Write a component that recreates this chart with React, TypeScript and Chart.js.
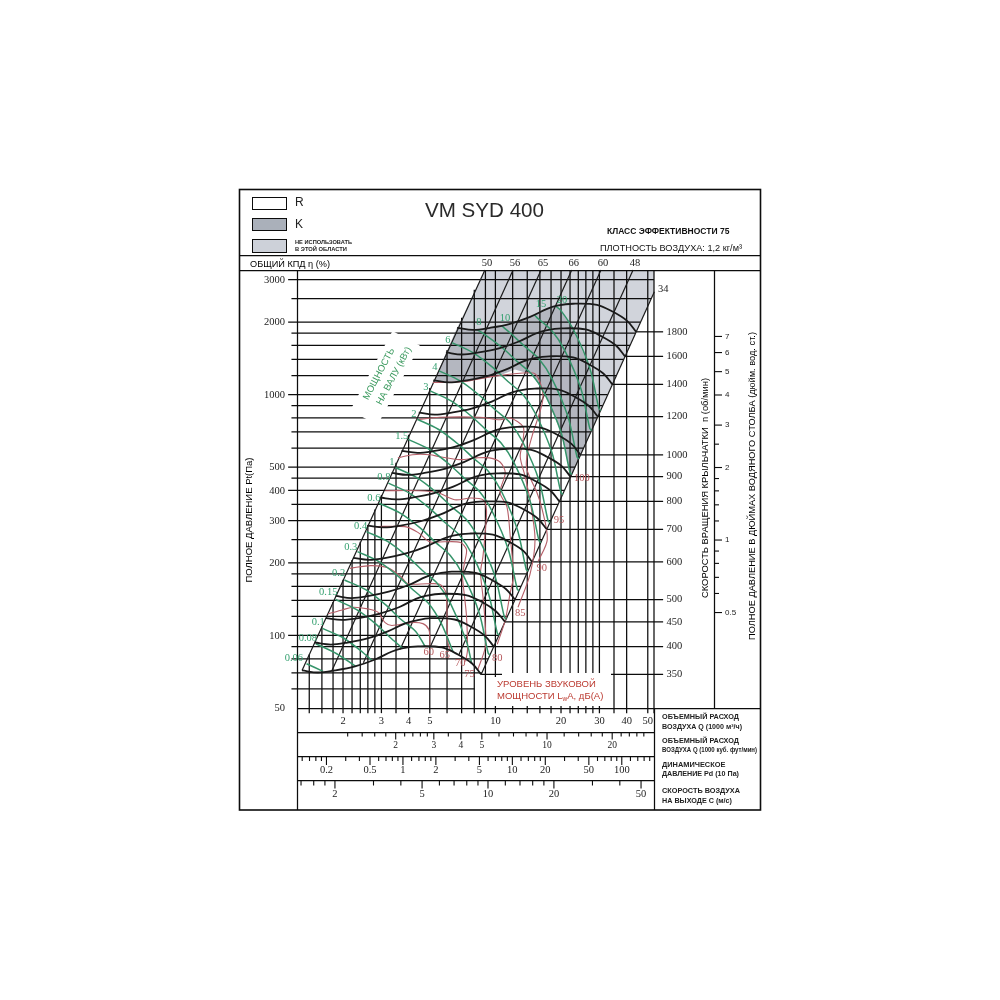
import React, { useEffect, useRef } from "react";
import { Chart, registerables } from "chart.js";

Chart.register(...registerables);

// ---- Axis tick values ----
const pressureGrid = [3000, 2500, 2000, 1800, 1600, 1400, 1200, 1000, 900, 800, 700, 600, 500, 450, 400, 350, 300, 250, 200, 180, 160, 140, 120, 100, 90, 80, 70, 60];
const pressureLabels = [3000, 2000, 1000, 500, 400, 300, 200, 100, 50];
const flowGrid = [1.4, 1.6, 1.8, 2, 2.2, 2.4, 2.6, 2.8, 3, 3.5, 4, 5, 6, 7, 8, 9, 10, 12, 14, 16, 18, 20, 22, 24, 26, 28, 30, 35, 40, 50, 53.4];
const flowLabels = [2, 3, 4, 5, 10, 20, 30, 40, 50];
const cfmTicks = [1.2, 1.4, 1.6, 1.8, 2, 2.2, 2.4, 2.6, 2.8, 3, 3.5, 4, 5, 6, 7, 8, 9, 10, 12, 14, 16, 18, 20, 22, 24, 26, 28];
const cfmLabels = [2, 3, 4, 5, 10, 20];
const dynTicks = [0.12, 0.14, 0.16, 0.18, 0.2, 0.3, 0.4, 0.5, 0.6, 0.7, 0.8, 0.9, 1, 1.2, 1.4, 1.6, 1.8, 2, 3, 4, 5, 6, 7, 8, 9, 10, 12, 14, 16, 18, 20, 30, 40, 50, 60, 70, 80, 90, 100, 120, 140, 160, 180];
const dynLabels = [0.2, 0.5, 1, 2, 5, 10, 20, 50, 100];
const speedTicks = [1.4, 1.6, 1.8, 2, 3, 4, 5, 6, 7, 8, 9, 10, 12, 14, 16, 18, 20, 30, 40, 50];
const speedLabels = [2, 5, 10, 20, 50];
const inchTicks = [0.5, 0.6, 0.7, 0.8, 0.9, 1, 1.2, 1.4, 1.6, 1.8, 2, 2.5, 3, 4, 5, 6, 7];
const inchLabels = [0.5, 1, 2, 3, 4, 5, 6, 7];

// ---- Fan speed curves (Q in 1000 m3/h, Pt in Pa) ----
const rpmLabels = [350, 400, 450, 500, 600, 700, 800, 900, 1000, 1200, 1400, 1600, 1800];
const rpmFlow = [
  [1.297, 1.536, 1.838, 2.27, 2.805, 3.357, 3.729, 4.414, 5.683, 6.731, 7.817, 8.6],
  [1.48, 1.76, 2.1, 2.59, 3.21, 3.84, 4.26, 5.04, 6.5, 7.69, 8.93, 9.83],
  [1.67, 1.97, 2.36, 2.92, 3.61, 4.32, 4.79, 5.68, 7.31, 8.65, 10.05, 11.06],
  [1.85, 2.19, 2.63, 3.24, 4.01, 4.8, 5.33, 6.31, 8.12, 9.62, 11.17, 12.29],
  [2.22, 2.63, 3.15, 3.89, 4.81, 5.75, 6.39, 7.57, 9.74, 11.54, 13.4, 14.74],
  [2.59, 3.07, 3.68, 4.54, 5.61, 6.71, 7.46, 8.83, 11.37, 13.46, 15.63, 17.2],
  [2.96, 3.51, 4.2, 5.19, 6.41, 7.67, 8.52, 10.09, 12.99, 15.39, 17.87, 19.66],
  [3.34, 3.95, 4.73, 5.84, 7.21, 8.63, 9.59, 11.35, 14.61, 17.31, 20.1, 22.11],
  [3.71, 4.39, 5.25, 6.49, 8.01, 9.59, 10.65, 12.61, 16.24, 19.23, 22.33, 24.57],
  [4.45, 5.27, 6.3, 7.78, 9.62, 11.51, 12.79, 15.13, 19.48, 23.08, 26.8, 29.49],
  [5.19, 6.14, 7.35, 9.08, 11.22, 13.43, 14.92, 17.66, 22.73, 26.92, 31.27, 34.4],
  [5.93, 7.02, 8.4, 10.38, 12.82, 15.35, 17.05, 20.18, 25.98, 30.77, 35.73, 39.31],
  [6.67, 7.9, 9.45, 11.67, 14.43, 17.26, 19.18, 22.7, 29.23, 34.62, 40.2, 44.23],
];
const rpmPressure = [
  [71.6, 70.2, 71.6, 74.4, 79.5, 85.8, 88.4, 90.1, 89.2, 83.4, 76.5, 68.9],
  [93.5, 91.7, 93.5, 97.2, 104, 112, 115, 118, 116.5, 109, 99.9, 90],
  [118, 116, 118, 123, 131, 142, 146, 149, 147, 138, 126, 114],
  [146, 143, 146, 152, 162, 175, 180, 184, 182, 170, 156, 141],
  [210, 206, 210, 219, 234, 252, 260, 265, 262, 245, 225, 202],
  [286, 281, 286, 298, 318, 343, 354, 360, 357, 334, 306, 276],
  [374, 367, 374, 389, 415, 448, 462, 471, 466, 436, 400, 360],
  [473, 464, 473, 492, 526, 567, 585, 596, 590, 551, 506, 456],
  [584, 573, 584, 607, 649, 700, 722, 735, 728, 681, 624, 562],
  [842, 825, 842, 875, 935, 1009, 1039, 1059, 1049, 980, 899, 810],
  [1146, 1123, 1146, 1190, 1272, 1373, 1414, 1442, 1427, 1334, 1224, 1102],
  [1496, 1467, 1496, 1555, 1661, 1793, 1847, 1883, 1864, 1743, 1599, 1440],
  [1894, 1857, 1894, 1968, 2103, 2269, 2338, 2383, 2359, 2206, 2023, 1822],
];

// ---- Shaft power curves (kW) ----
const powerLabels = ["0.06", "0.08", "0.1", "0.15", "0.2", "0.3", "0.4", "0.6", "0.8", "1", "1.5", "2", "3", "4", "6", "8", "10", "15", "20"];
const powerFlow = [
  [1.36, 1.62],
  [1.5, 1.87, 2.28],
  [1.61, 2.02, 2.49, 2.72],
  [1.85, 2.31, 2.85, 3.34, 3.75],
  [2.03, 2.54, 3.14, 3.67, 4.31, 4.75],
  [2.33, 2.91, 3.59, 4.21, 4.93, 5.65, 6.4],
  [2.56, 3.2, 3.95, 4.63, 5.43, 6.22, 7.37, 7.78],
  [2.93, 3.66, 4.53, 5.3, 6.21, 7.12, 8.43, 9.27, 9.47],
  [3.23, 4.03, 4.98, 5.83, 6.84, 7.84, 9.28, 10.21, 10.42],
  [3.48, 4.34, 5.37, 6.28, 7.36, 8.44, 10.0, 11.0, 11.23],
  [3.98, 4.97, 6.14, 7.19, 8.43, 9.66, 11.45, 12.59, 12.85],
  [4.38, 5.47, 6.76, 7.92, 9.28, 10.64, 12.6, 13.85, 14.15],
  [5.02, 6.26, 7.74, 9.06, 10.62, 12.18, 14.42, 15.86, 16.19],
  [5.52, 6.89, 8.52, 9.98, 11.69, 13.4, 15.87, 17.45, 17.82],
  [6.32, 7.89, 9.75, 11.42, 13.38, 15.34, 18.17, 19.98, 20.4],
  [8.15, 8.68, 10.73, 12.57, 14.73, 16.88, 20.0, 21.99, 22.45],
  [10.65, 11.56, 13.54, 15.86, 18.19, 21.54, 23.69, 24.19],
  [15.1, 15.5, 18.16, 20.82, 24.66, 27.12, 27.69],
  [18.9, 19.99, 22.91, 27.14, 29.85, 30.47],
];
const powerPressure = [
  [76.3, 71],
  [92.4, 84, 74.6],
  [107, 97.4, 84.4, 78.6],
  [141, 128, 111, 96.9, 88.6],
  [170, 155, 134, 117, 104, 90.2],
  [223, 203, 176, 154, 136, 112, 85.5],
  [270, 246, 213, 186, 164, 136, 94.5, 76.5],
  [354, 322, 279, 244, 215, 178, 124, 84.4, 82.9],
  [429, 390, 338, 296, 261, 216, 150, 102, 100.5],
  [498, 453, 392, 343, 303, 250, 174, 119, 117],
  [652, 593, 514, 450, 397, 328, 228, 156, 153],
  [790, 718, 622, 545, 481, 398, 276, 188, 185],
  [1036, 941, 815, 714, 630, 521, 362, 247, 243],
  [1255, 1140, 987, 865, 763, 631, 439, 299, 294],
  [1644, 1494, 1294, 1133, 1000, 827, 575, 392, 385],
  [1862, 1810, 1568, 1373, 1211, 1002, 697, 475, 466],
  [1935, 1819, 1593, 1406, 1163, 808, 551, 541],
  [2140, 2087, 1842, 1523, 1059, 722, 709],
  [2330, 2231, 1845, 1283, 875, 859],
];
const powerLabelAt = [
  [1.19, 80.3], [1.38, 97.3], [1.54, 114], [1.71, 151], [1.91, 181], [2.17, 232], [2.41, 283], [2.77, 370], [3.08, 452], [3.35, 524],
  [3.72, 670], [4.23, 830], [4.8, 1077], [5.28, 1297], [6.06, 1687], [8.4, 1990], [11.06, 2065], [16.2, 2365], [20.2, 2470],
];

// ---- Sound power curves, dB(A) ----
const noiseLabels = [60, 65, 70, 75, 80, 85, 90];
const noiseFlow = [
  [1.71, 2.0, 2.22, 2.6, 2.89, 3.12, 3.35, 4.09, 4.65, 4.95, 5.0, 5.0],
  [2.15, 2.68, 3.21, 3.68, 3.97, 4.89, 5.55, 5.92, 6.0, 6.05, 6.24],
  [2.79, 3.84, 4.41, 5.0, 5.86, 6.92, 7.37, 7.22, 7.07, 7.22, 7.37, 7.45, 7.3],
  [3.12, 4.41, 5.44, 6.5, 7.7, 8.77, 9.1, 9.0, 8.77, 8.55, 8.77, 8.97, 9.0, 8.3],
  [3.57, 4.17, 5.0, 5.55, 6.85, 8.2, 9.39, 10.5, 11.1, 10.5, 11.3, 11.7, 12.1, 11.7, 11.1, 10.2],
  [4.35, 5.55, 8.45, 10.5, 11.7, 13.4, 13.4, 13.0, 13.7, 14.4, 15.2, 14.4, 12.7],
  [5.17, 7.07, 9.75, 14.9, 16.0, 16.5, 14.7, 13.95, 13.95, 15.5, 16.4, 17.3, 15.7],
];
const noisePressure = [
  [123, 128, 131, 129, 125, 113, 110, 113, 112, 106, 98, 90],
  [190, 195, 191, 176, 164, 164, 163, 151, 120, 94, 86],
  [283, 283, 268, 245, 245, 243, 227, 201, 176, 145, 120, 87.5, 78],
  [399, 399, 392, 366, 372, 366, 333, 275, 213, 183, 145, 113, 90, 72],
  [546, 563, 563, 552, 537, 546, 546, 525, 474, 392, 342, 257, 176, 151, 116, 92],
  [786, 805, 805, 786, 800, 735, 650, 552, 456, 366, 250, 179, 131],
  [1122, 1130, 1190, 1230, 1130, 951, 668, 552, 488, 392, 333, 250, 203],
];
const noiseLabelText = ["60", "65", "70", "75", "80", "85", "90", "95", "100"];
const noiseLabelAt = [
  [4.95, 85.5], [5.85, 83], [6.9, 77], [7.6, 69], [10.2, 80.5], [13.0, 123.5], [16.3, 191], [19.6, 302], [24.9, 449],
];

// ---- Efficiency (system) lines ----
const efficiencyLabels = ["50", "56", "65", "66", "60", "48"];
const efficiencyLabelFlow = [8.95, 12.05, 16.2, 22.4, 30.5, 42.8];
const efficiencyFlow = [
  [1.297, 8.95],
  [1.78, 12.05],
  [2.48, 16.2],
  [3.66, 22.4],
  [5.02, 30.5],
  [6.79, 42.8],
  [8.6, 53.6],
];
const efficiencyPressure = [
  [71.6, 3290],
  [71.6, 3290],
  [77, 3290],
  [87.7, 3290],
  [89.6, 3290],
  [83, 3290],
  [68.9, 2673],
];

// ---- Zones ----
const forbiddenFlow = [6.67, 8.95, 53.4, 53.4, 30.4, 29.85, 27.14, 22.91, 19.99, 18.9, 17.26, 14.43, 11.67, 9.45, 7.9];
const forbiddenPressure = [1894, 3290, 3290, 2673, 865, 875, 1283, 1845, 2231, 2330, 2269, 2103, 1968, 1894, 1857];
const zoneKFlow = [6.67, 7.9, 9.45, 11.67, 14.43, 17.26, 18.9, 19.99, 22.91, 27.14, 29.85, 30.4, 22.3, 21.99, 20.0, 16.88, 14.73, 12.3, 10.15, 7.4, 5.17];
const zoneKPressure = [1894, 1857, 1894, 1968, 2103, 2269, 2330, 2231, 1845, 1283, 875, 865, 456, 475, 697, 1002, 1211, 1270, 1190, 1140, 1118];

const SANS = '"Liberation Sans", Arial, sans-serif';
const SERIF = '"Liberation Serif", "Times New Roman", serif';
const BLACK = "#0c0c0c";
const GREEN = "#35946a";
const RED = "#b55f68";
const DARK_ZONE = "#b4b7c0";
const LIGHT_ZONE = "#d1d4db";

const xMin = 1.23, xMax = 53.4, yMin = 50, yMax = 3290;
const rightK = 1.036, leftK = 0.1533;

const makeLine = (xs: number[], ys: number[], color: string, width: number, order: number, tension = 0) => ({
  data: xs.map((x, i) => ({ x, y: ys[i] })),
  showLine: true,
  pointRadius: 0,
  borderColor: color,
  borderWidth: width,
  tension,
  order,
  clip: false as any,
  fill: false,
});

function buildDatasets() {
  const sets: any[] = [];
  pressureGrid.forEach((p) => {
    const labelled = pressureLabels.includes(p);
    const right = Math.min(xMax, rightK * Math.sqrt(p));
    sets.push(makeLine([labelled ? 1.12 : 1.16, right], [p, p], BLACK, 1.25, 50));
  });
  flowGrid.forEach((q) => {
    const top = Math.min(yMax, (q / leftK) * (q / leftK));
    sets.push(makeLine([q, q], [47.6, top], BLACK, 1.25, 50));
  });
  rpmLabels.forEach((_, i) => {
    const f = rpmFlow[i], p = rpmPressure[i];
    const endQ = f[f.length - 1], endP = p[p.length - 1];
    sets.push(makeLine([endQ, 58.8], [endP, endP], BLACK, 1.25, 45));
  });
  efficiencyFlow.forEach((f, i) => sets.push(makeLine(f, efficiencyPressure[i], "#1a1a1a", 1.2, 40)));
  noiseFlow.forEach((f, i) => sets.push(makeLine(f, noisePressure[i], RED, 1.1, 30, 0.3)));
  powerFlow.forEach((f, i) => sets.push(makeLine(f, powerPressure[i], GREEN, 1.5, 20, 0.3)));
  rpmFlow.forEach((f, i) => sets.push(makeLine(f, rpmPressure[i], "#1a1a1a", 1.8, 10, 0.35)));
  return sets;
}

const text = (ctx: any, s: string, x: number, y: number, font: string, color = "#222", align = "left", maxW?: number) => {
  ctx.font = font;
  ctx.fillStyle = color;
  ctx.textAlign = align;
  ctx.textBaseline = "middle";
  if (maxW) ctx.fillText(s, x, y, maxW);
  else ctx.fillText(s, x, y);
};
const rotated = (ctx: any, s: string, x: number, y: number, deg: number, font: string, color = "#222", maxW?: number) => {
  ctx.save();
  ctx.translate(x, y);
  ctx.rotate((deg * Math.PI) / 180);
  text(ctx, s, 0, 0, font, color, "center", maxW);
  ctx.restore();
};
const seg = (ctx: any, x0: number, y0: number, x1: number, y1: number, w = 1, color = BLACK) => {
  ctx.strokeStyle = color;
  ctx.lineWidth = w;
  ctx.beginPath();
  ctx.moveTo(x0, y0);
  ctx.lineTo(x1, y1);
  ctx.stroke();
};

const zonesPlugin = {
  id: "zones",
  beforeDatasetsDraw(chart: any) {
    const { ctx, scales } = chart;
    const poly = (fx: number[], fy: number[], color: string) => {
      ctx.beginPath();
      fx.forEach((q, i) => {
        const px = scales.x.getPixelForValue(q), py = scales.y.getPixelForValue(fy[i]);
        if (i === 0) ctx.moveTo(px, py);
        else ctx.lineTo(px, py);
      });
      ctx.closePath();
      ctx.fillStyle = color;
      ctx.fill();
    };
    poly(forbiddenFlow, forbiddenPressure, LIGHT_ZONE);
    poly(zoneKFlow, zoneKPressure, DARK_ZONE);
  },
};

const annotationPlugin = {
  id: "annotation",
  afterDatasetsDraw(chart: any) {
    const { ctx, scales } = chart;
    const { x, y, cfm, dyn, speed, inch } = scales;
    ctx.save();

    // white knock-outs behind captions
    ctx.save();
    ctx.translate(385, 378);
    ctx.rotate((-62 * Math.PI) / 180);
    ctx.fillStyle = "#fff";
    ctx.fillRect(-45, -15.5, 90, 31);
    ctx.restore();
    ctx.fillStyle = "#fff";
    ctx.fillRect(490, 677, 121, 29);
    ctx.fillRect(502, 673, 109, 5);

    // frame and rules
    ctx.strokeStyle = BLACK;
    ctx.lineWidth = 1.6;
    ctx.strokeRect(239.5, 189.5, 521, 620.5);
    seg(ctx, 239, 255.5, 760, 255.5, 1.25);
    seg(ctx, 239, 270.5, 760, 270.5, 1.25);
    seg(ctx, 297.5, 270, 297.5, 810, 1.25);
    seg(ctx, 654.5, 708, 654.5, 810, 1.25);
    seg(ctx, 714.5, 270, 714.5, 708, 1.25);
    seg(ctx, 297, 708.5, 760, 708.5, 1.25);
    seg(ctx, 297, 732.5, 654, 732.5, 1.25);
    seg(ctx, 297, 756.5, 654, 756.5, 1.25);
    seg(ctx, 297, 780.5, 654, 780.5, 1.25);

    // legend
    ctx.lineWidth = 1;
    ctx.strokeStyle = BLACK;
    ctx.fillStyle = "#fff";
    ctx.fillRect(252.5, 197.5, 34, 12);
    ctx.strokeRect(252.5, 197.5, 34, 12);
    ctx.fillStyle = "#aab0ba";
    ctx.fillRect(252.5, 218.5, 34, 12);
    ctx.strokeRect(252.5, 218.5, 34, 12);
    ctx.fillStyle = "#cdd1d9";
    ctx.fillRect(252.5, 239.5, 34, 13);
    ctx.strokeRect(252.5, 239.5, 34, 13);
    text(ctx, "R", 295, 203, `12px ${SANS}`);
    text(ctx, "K", 295, 225, `12px ${SANS}`);
    text(ctx, "НЕ ИСПОЛЬЗОВАТЬ", 295, 242.5, `bold 6px ${SANS}`, "#222", "left", 57);
    text(ctx, "В ЭТОЙ ОБЛАСТИ", 295, 249.5, `bold 6px ${SANS}`, "#222", "left", 52);

    // headings
    text(ctx, "VM SYD 400", 484.5, 211.5, `21px ${SANS}`, "#2a2a2a", "center", 119);
    text(ctx, "КЛАСС ЭФФЕКТИВНОСТИ 75", 607, 231.5, `bold 8.5px ${SANS}`, "#111", "left", 133);
    text(ctx, "ПЛОТНОСТЬ ВОЗДУХА: 1,2 кг/м³", 600, 248, `9.5px ${SANS}`, "#111", "left", 142);
    text(ctx, "ОБЩИЙ КПД η (%)", 250, 264, `9.5px ${SANS}`, "#000", "left", 80);

    // efficiency labels
    efficiencyLabels.forEach((s, i) => {
      const px = x.getPixelForValue(efficiencyLabelFlow[i]);
      text(ctx, s, px + 2, 263.5, `10.5px ${SERIF}`, "#222", "center");
    });
    text(ctx, "34", 658, 289, `10.5px ${SERIF}`, "#222");

    // pressure labels
    pressureLabels.forEach((p) => {
      text(ctx, String(p), 285, y.getPixelForValue(p) + 0.5, `10.5px ${SERIF}`, "#222", "right");
    });

    // rpm labels
    rpmLabels.forEach((n, i) => {
      const p = rpmPressure[i];
      text(ctx, String(n), 666.5, y.getPixelForValue(p[p.length - 1]), `10.5px ${SERIF}`, "#222");
    });

    // inches water gauge ruler
    inchTicks.forEach((v) => {
      const py = inch.getPixelForValue(v);
      const major = inchLabels.includes(v);
      seg(ctx, 714, py, major ? 722 : 719, py, 1.1);
      if (major) text(ctx, String(v), 725, py, `8px ${SANS}`, "#222");
    });

    // bottom rulers
    flowLabels.forEach((v) => {
      const px = x.getPixelForValue(v);
      text(ctx, String(v), px, 721.5, `10.5px ${SERIF}`, "#222", "center");
    });
    const ruler = (scale: any, ticks: number[], labels: number[], yTop: number, minor: number, major: number, ly: number, font: string) => {
      ticks.forEach((v) => {
        const px = scale.getPixelForValue(v);
        const on = labels.includes(v);
        seg(ctx, px, yTop, px, yTop + (on ? major : minor), 1.1);
        if (on) text(ctx, String(v), px, ly, font, "#222", "center");
      });
    };
    ruler(cfm, cfmTicks, cfmLabels, 732, 4.5, 7.5, 745.5, `9.5px ${SERIF}`);
    ruler(dyn, dynTicks, dynLabels, 756, 5, 9, 770, `10.5px ${SERIF}`);
    ruler(speed, speedTicks, speedLabels, 780, 5.5, 8.5, 794, `10.5px ${SERIF}`);

    // right-hand ruler captions
    const cap = `bold 7.4px ${SANS}`;
    text(ctx, "ОБЪЕМНЫЙ РАСХОД", 662, 717, cap, "#222", "left", 77);
    text(ctx, "ВОЗДУХА Q (1000 м³/ч)", 662, 727, cap, "#222", "left", 80);
    text(ctx, "ОБЪЕМНЫЙ РАСХОД", 662, 741, cap, "#222", "left", 77);
    text(ctx, "ВОЗДУХА Q (1000 куб. фут/мин)", 662, 750, cap, "#222", "left", 95);
    text(ctx, "ДИНАМИЧЕСКОЕ", 662, 765, cap, "#222", "left", 66);
    text(ctx, "ДАВЛЕНИЕ Pd (10 Па)", 662, 774, cap, "#222", "left", 77);
    text(ctx, "СКОРОСТЬ ВОЗДУХА", 662, 791, cap, "#222", "left", 78);
    text(ctx, "НА ВЫХОДЕ С (м/с)", 662, 801, cap, "#222", "left", 70);

    // vertical axis titles
    rotated(ctx, "ПОЛНОЕ ДАВЛЕНИЕ Рt(Па)", 249.5, 520, -90, `9.5px ${SANS}`, "#000", 125);
    rotated(ctx, "СКОРОСТЬ ВРАЩЕНИЯ КРЫЛЬЧАТКИ  n (об/мин)", 705, 488, -90, `9.5px ${SANS}`, "#000", 220);
    rotated(ctx, "ПОЛНОЕ ДАВЛЕНИЕ В ДЮЙМАХ ВОДЯНОГО СТОЛБА (дюйм. вод. ст.)", 752, 486, -90, `9.5px ${SANS}`, "#000", 308);

    // green power labels
    powerLabels.forEach((s, i) => {
      const [q, p] = powerLabelAt[i];
      text(ctx, s, x.getPixelForValue(q), y.getPixelForValue(p), `10.5px ${SERIF}`, "#35a070", "center");
    });
    rotated(ctx, "МОЩНОСТЬ", 379, 374, -62, `9.5px ${SANS}`, "#3c9a5f", 60);
    rotated(ctx, "НА ВАЛУ (кВт)", 394, 376, -62, `9.5px ${SANS}`, "#3c9a5f", 67);

    // red noise labels
    noiseLabelText.forEach((s, i) => {
      const [q, p] = noiseLabelAt[i];
      text(ctx, s, x.getPixelForValue(q), y.getPixelForValue(p), `10.5px ${SERIF}`, "#b5565a", "center");
    });
    const redCap = `9.5px ${SANS}`;
    text(ctx, "УРОВЕНЬ ЗВУКОВОЙ", 497, 684, redCap, "#bb3a30", "left", 100);
    text(ctx, "МОЩНОСТИ L", 497, 696, redCap, "#bb3a30");
    let cx = 497 + ctx.measureText("МОЩНОСТИ L").width;
    text(ctx, "w", cx, 699, `6.5px ${SANS}`, "#bb3a30");
    cx += ctx.measureText("w").width;
    text(ctx, "А, дБ(А)", cx, 696, redCap, "#bb3a30");

    ctx.restore();
  },
};

export default function App() {
  const ref = useRef<HTMLCanvasElement>(null);
  useEffect(() => {
    const chart = new Chart(ref.current as any, {
      type: "scatter",
      data: { datasets: buildDatasets() },
      options: {
        animation: false,
        responsive: false,
        maintainAspectRatio: false,
        devicePixelRatio: 1,
        events: [],
        layout: { padding: { left: 297, top: 270, right: 346, bottom: 292 } },
        plugins: { legend: { display: false }, tooltip: { enabled: false }, title: { display: false } },
        scales: {
          x: { type: "logarithmic", min: xMin, max: xMax, display: false },
          y: { type: "logarithmic", min: yMin, max: yMax, display: false },
          cfm: { axis: "x", type: "logarithmic", min: 0.715, max: 31.2, display: false },
          dyn: { axis: "x", type: "logarithmic", min: 0.1076, max: 197, display: false },
          speed: { axis: "x", type: "logarithmic", min: 1.342, max: 57.3, display: false },
          inch: { axis: "y", type: "logarithmic", min: 0.2008, max: 13.21, display: false },
        },
      } as any,
      plugins: [zonesPlugin, annotationPlugin] as any,
    });
    return () => chart.destroy();
  }, []);
  return (
    <canvas
      ref={ref}
      width={1000}
      height={1000}
      style={{ position: "fixed", left: 0, top: 0, width: 1000, height: 1000, background: "#fff" }}
    />
  );
}
